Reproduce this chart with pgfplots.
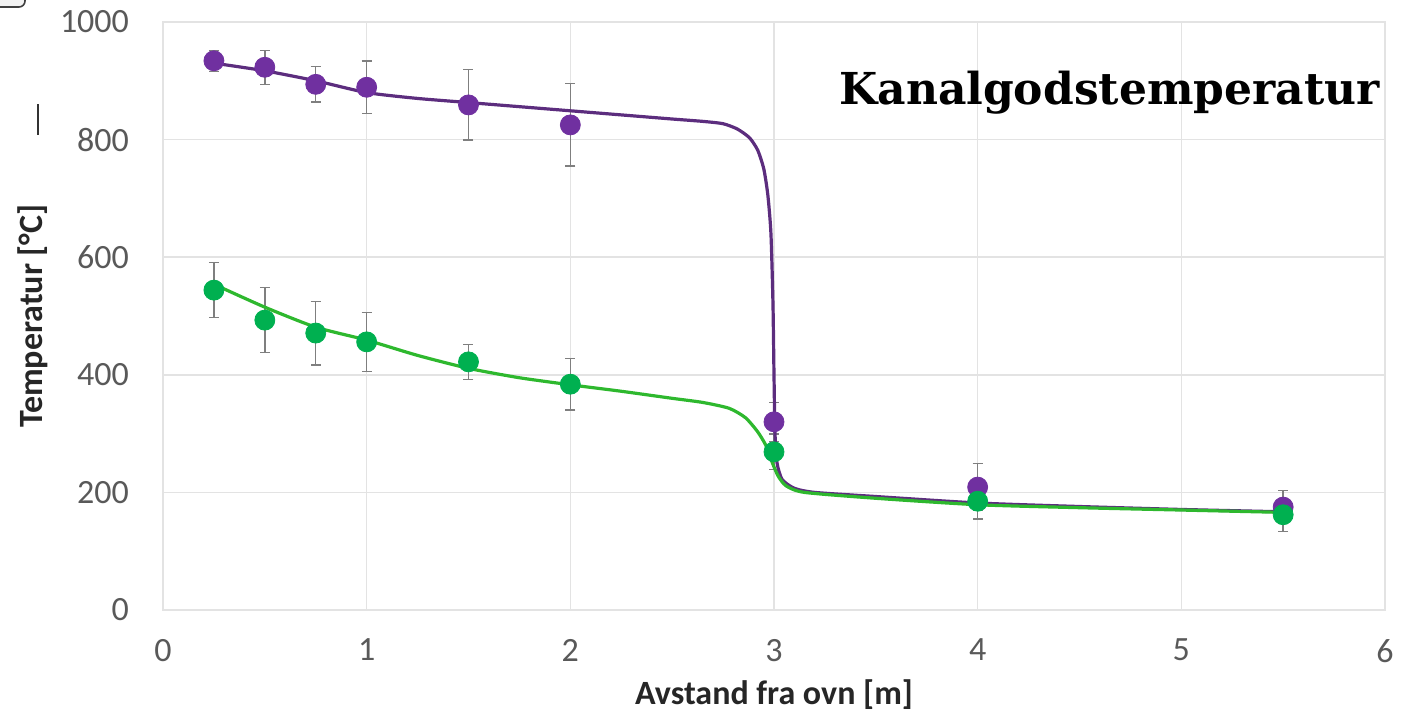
\documentclass[border=0pt]{standalone}
\usepackage{pgfplots}
\pgfplotsset{compat=1.18}
\usepackage{pgfplotstable}
\usepackage{fontspec}
\setmainfont{Carlito}
\newfontfamily\titlefont{DejaVu Serif}
\definecolor{purpm}{HTML}{7030A0}
\definecolor{purpl}{HTML}{5C2D7E}
\definecolor{greenm}{HTML}{00B050}
\definecolor{greenl}{HTML}{2EB82E}
\definecolor{gridc}{HTML}{E3E3E3}
\definecolor{tickc}{HTML}{595959}
\definecolor{errc}{HTML}{7F7F7F}

\pgfplotstableread{
x    y    e
0.25 934 18
0.5  923 29
0.75 894 30
1.0  889 45
1.5  859 60
2.0  825 70
3.0  320 33
4.0  209 40
5.5  175 28
}\purpdata

\pgfplotstableread{
x    y    e
0.25 544 47
0.5  493 55
0.75 471 54
1.0  456 50
1.5  422 30
2.0  384 44
3.0  269 30
4.0  185 30
5.5  162 28
}\greendata

\pgfplotstableread{
x     y
0.25  930
0.5   917
0.75  900
1.0   880
1.25  870
1.5   863
1.75  856
2.0   849
2.25  842
2.5   835
2.65  831
2.75  827
2.82  818
2.88  803
2.92  782
2.95  750
2.97  705
2.985 640
2.995 520
3.0   400
3.005 300
3.015 250
3.04  222
3.1   207
3.2   200
3.5   193
4.0   182
4.5   176
5.0   171
5.5   167
}\purpcurve

\pgfplotstableread{
x     y
0.25  554
0.5   515
0.75  481
1.0   459
1.25  433
1.5   411
1.75  395
2.0   383
2.25  372
2.5   360
2.65  353
2.78  343
2.86  327
2.92  303
2.96  280
2.99  252
3.02  228
3.06  211
3.15  200
3.5   190
4.0   179
4.5   174
5.0   170
5.5   166
}\greencurve

\begin{document}
\begin{tikzpicture}
\useasboundingbox (-81.5pt,-54pt) rectangle (620pt,305pt);
\begin{axis}[
  at={(0,0)}, anchor=south west, scale only axis,
  width=611pt, height=294pt,
  xmin=0, xmax=6, ymin=0, ymax=1000,
  xtick={0,1,2,3,4,5,6}, ytick={0,200,400,600,800,1000},
  grid=major, major grid style={draw=gridc, line width=0.8pt},
  axis line style={draw=gridc, line width=0.8pt},
  tick style={draw=none},
  /pgf/number format/assume math mode=true,
  /pgf/number format/1000 sep={},
  ticklabel style={font=\fontsize{17}{20}\selectfont, text=tickc},
  xticklabel style={yshift=-11pt},
  yticklabel style={xshift=-13.5pt},
  xlabel={Avstand fra ovn [m]},
  ylabel={Temperatur [°C]},
  label style={font=\bfseries\fontsize{17}{20}\selectfont, text=black!85},
  xlabel style={at={(axis description cs:0.5,-0.1446)}, anchor=center},
  ylabel style={at={(axis description cs:-0.1064,0.5)}, anchor=center},
  clip=false,
]
\addplot[only marks, mark=*, mark size=5pt, draw=purpm, fill=purpm,
  error bars/.cd, y dir=both, y explicit,
  error bar style={draw=errc, line width=0.7pt},
  error mark options={rotate=90, mark size=2.5pt, draw=errc, line width=0.7pt}]
  table[x=x, y=y, y error=e] {\purpdata};
\addplot[only marks, mark=*, mark size=5pt, draw=greenm, fill=greenm,
  error bars/.cd, y dir=both, y explicit,
  error bar style={draw=errc, line width=0.7pt},
  error mark options={rotate=90, mark size=2.5pt, draw=errc, line width=0.7pt}]
  table[x=x, y=y, y error=e] {\greendata};
\addplot[no marks, draw=purpl, line width=1.6pt, smooth, tension=0.4] table[x=x, y=y] {\purpcurve};
\addplot[no marks, draw=greenl, line width=1.6pt, smooth, tension=0.4] table[x=x, y=y] {\greencurve};
\node[anchor=base east, inner sep=0pt, font=\titlefont\bfseries\fontsize{22}{26}\selectfont]
  at (rel axis cs:0.996,0.859) {Kanalgodstemperatur};
\end{axis}
\draw[black!80, line width=1pt] (-62.25pt,237.5pt) -- (-62.25pt,253pt);
\draw[black!75, fill=black!5, line width=0.8pt, rounded corners=3pt] (-95pt,312pt) rectangle (-69pt,301.5pt);
\end{tikzpicture}
\end{document}
